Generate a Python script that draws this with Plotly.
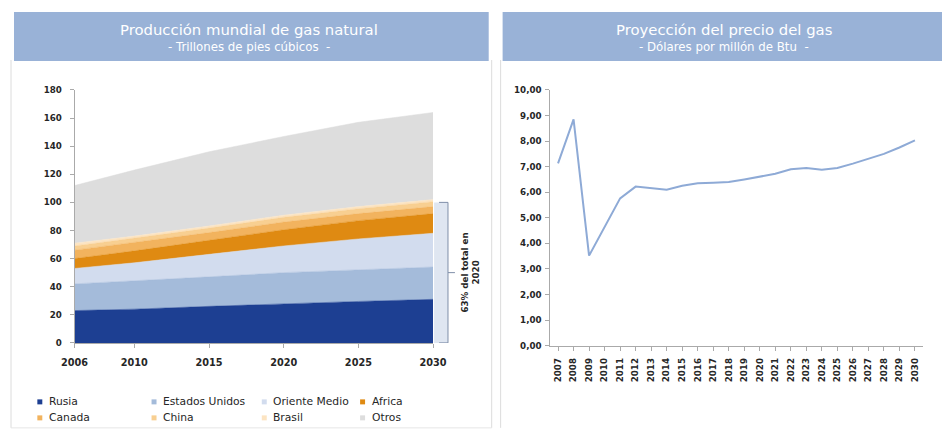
import plotly.graph_objects as go

W, H = 942, 429

# ---------------- data ----------------
years_prod = [2006, 2010, 2015, 2020, 2025, 2030]
series_names = ["Rusia", "Estados Unidos", "Oriente Medio", "Africa",
                "Canada", "China", "Brasil", "Otros"]
rusia = [23, 24, 26, 28, 29.5, 31]
eeuu = [19, 20, 21, 22, 22.5, 23]
oriente = [11, 13, 16, 19, 22, 24]
africa = [7, 8.5, 10, 11.5, 13, 14]
canada = [6, 6, 5.5, 5.5, 5, 5]
china = [3, 3, 3.2, 3.4, 3.5, 3.5]
brasil = [2, 1.5, 1.5, 1.5, 1.5, 1.5]
otros = [41, 47, 52.8, 56, 60, 62]
series_values = [rusia, eeuu, oriente, africa, canada, china, brasil, otros]
series_colors = ["#1d3f92", "#a4bbda", "#d2dcee", "#df8a12",
                 "#f2b35e", "#f8cf91", "#fce4c2", "#dddddd"]
prod_xticks = [2006, 2010, 2015, 2020, 2025, 2030]
prod_yticks = list(range(0, 181, 20))

price_years = [str(y) for y in range(2007, 2031)]
price_values = [7.13, 8.85, 3.52, 4.65, 5.76, 6.22, 6.15, 6.10, 6.25, 6.35,
                6.37, 6.40, 6.50, 6.62, 6.72, 6.90, 6.95, 6.88, 6.95, 7.12,
                7.30, 7.50, 7.75, 8.03]
price_yticks = [i * 1.0 for i in range(0, 11)]

bracket_top = 100
bracket_text = "63% del total en<br>2020"

# compensation for the slight scaling seen in the captured page
S, OX, OY = 0.977, 10.0, 5.0
FONT = "DejaVu Sans"


def px(x):
    return ((x - OX) / S) / W


def py(y):
    return 1 - ((y - OY) / S) / H


def fs(s):
    return s / S


fig = go.Figure()

for name, vals, col in zip(series_names, series_values, series_colors):
    fig.add_trace(go.Scatter(
        x=years_prod, y=vals, name=name, stackgroup="one",
        mode="lines", line=dict(width=0.5, color=col), fillcolor=col,
        xaxis="x", yaxis="y", showlegend=False, hoverinfo="skip"))

fig.add_trace(go.Scatter(
    x=price_years, y=price_values, mode="lines",
    line=dict(color="#8eaad6", width=2), xaxis="x2", yaxis="y2",
    showlegend=False, hoverinfo="skip"))

tickfont = dict(family=FONT, size=fs(8.5), color="#262626", weight="bold")
tickfont_x = dict(family=FONT, size=fs(9.5), color="#262626", weight="bold")

axis_common = dict(ticks="outside", ticklen=4, tickcolor="#aaaaaa",
                   showline=True, linecolor="#aaaaaa", showgrid=False,
                   zeroline=False)

fig.update_layout(
    width=W, height=H, margin=dict(l=0, r=0, t=0, b=0),
    paper_bgcolor="white", plot_bgcolor="white",
    separators=",.",
    font=dict(family=FONT),
    xaxis=dict(domain=[px(71), px(432)], range=[2006, 2030],
               tickvals=prod_xticks, tickfont=tickfont_x,
               ticklabelstandoff=6, anchor="y", **axis_common),
    yaxis=dict(domain=[py(343), py(90)], range=[0, 180],
               tickvals=prod_yticks, tickfont=tickfont,
               ticklabelstandoff=6, anchor="x", **axis_common),
    xaxis2=dict(domain=[px(550), px(925)], type="category",
                range=[-0.5, 23.5], tickangle=-90, tickfont=tickfont,
                ticklabelstandoff=4, anchor="y2", **axis_common),
    yaxis2=dict(domain=[py(345.7), py(90)], range=[0, 10],
                tickvals=price_yticks, tickformat=".2f", tickfont=tickfont,
                ticklabelstandoff=2, anchor="x2", **axis_common),
)

shapes = []
# panel borders
for x in [7, 491, 500]:
    shapes.append(dict(type="line", xref="paper", yref="paper",
                       x0=px(x), x1=px(x), y0=py(60), y1=py(428),
                       line=dict(color="#dcdcdc", width=1)))
shapes.append(dict(type="line", xref="paper", yref="paper",
                   x0=px(7), x1=px(491), y0=py(428), y1=py(428),
                   line=dict(color="#e6e6e6", width=1)))
# header boxes
for x0, x1 in [(10, 488), (502, 960)]:
    shapes.append(dict(type="rect", xref="paper", yref="paper",
                       x0=px(x0), x1=px(x1), y0=py(61), y1=py(12),
                       fillcolor="#99b2d7", line=dict(width=0)))
# bracket
shapes.append(dict(type="rect", xref="paper", yref="y",
                   x0=px(433), x1=px(447), y0=0, y1=bracket_top,
                   fillcolor="#dfe6f1", line=dict(width=0), layer="below"))
shapes.append(dict(type="path", xref="paper", yref="y",
                   path=f"M {px(438)},{bracket_top} L {px(447)},{bracket_top} "
                        f"L {px(447)},0 L {px(438)},0",
                   line=dict(color="#7f8ea8", width=1)))
shapes.append(dict(type="line", xref="paper", yref="y",
                   x0=px(447), x1=px(454), y0=bracket_top / 2,
                   y1=bracket_top / 2, line=dict(color="#7f8ea8", width=1)))

annotations = []
for cx, t1, t2 in [(247, "Producción mundial de gas natural",
                    "- Trillones de pies cúbicos &nbsp;-"),
                   (725, "Proyección del precio del gas",
                    "- Dólares por millón de Btu &nbsp;-")]:
    annotations.append(dict(xref="paper", yref="paper", x=px(cx), y=py(30),
                            xanchor="center", yanchor="middle",
                            text=t1, showarrow=False,
                            font=dict(size=fs(14.5), color="white",
                                      family=FONT)))
    annotations.append(dict(xref="paper", yref="paper", x=px(cx), y=py(47),
                            xanchor="center", yanchor="middle",
                            text=t2, showarrow=False,
                            font=dict(size=fs(11.5), color="white",
                                      family=FONT)))

annotations.append(dict(xref="paper", yref="y", x=px(470), y=bracket_top / 2,
                        xanchor="center", yanchor="middle",
                        text=bracket_text, textangle=-90, showarrow=False,
                        font=dict(size=fs(8.5), color="#262626",
                                  family=FONT, weight="bold")))

# legend
leg_x = [36, 151, 262, 361]
leg_y = [402, 418]
for i, (name, col) in enumerate(zip(series_names, series_colors)):
    cx = leg_x[i % 4]
    cy = leg_y[i // 4]
    shapes.append(dict(type="rect", xref="paper", yref="paper",
                       x0=px(cx - 2.5), x1=px(cx + 2.5),
                       y0=py(cy + 2.5), y1=py(cy - 2.5),
                       fillcolor=col, line=dict(width=0)))
    annotations.append(dict(xref="paper", yref="paper", x=px(cx + 7),
                            y=py(cy), xanchor="left", yanchor="middle",
                            text=name, showarrow=False,
                            font=dict(size=fs(10.5), color="#262626",
                                      family=FONT)))

fig.update_layout(shapes=shapes, annotations=annotations)

fig.write_html(
    "out.html",
    config={"displayModeBar": False},
    post_script="document.body.style.margin='0';"
                "document.body.style.overflow='hidden';")
